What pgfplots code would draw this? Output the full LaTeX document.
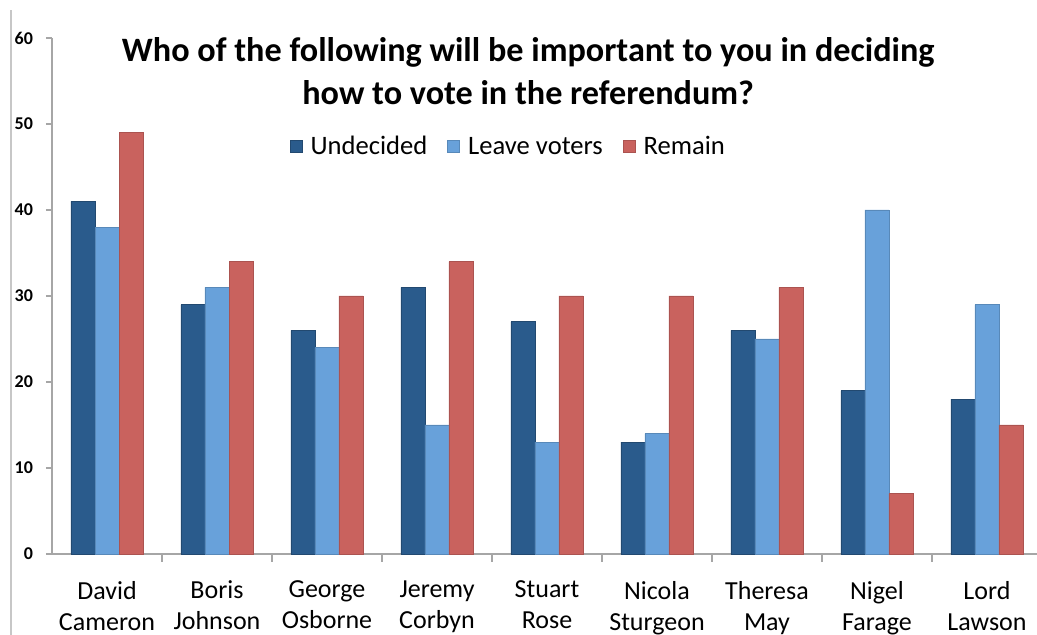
\documentclass[border=0pt]{standalone}
\usepackage{fontspec}
\setmainfont{Carlito}
\usepackage{pgfplots}
\pgfplotsset{compat=1.18}
\definecolor{cUnd}{HTML}{2A5B8C}
\definecolor{cLeave}{HTML}{68A1DA}
\definecolor{cRem}{HTML}{C9625E}
\definecolor{axgray}{HTML}{A6A6A6}
\begin{document}
\begin{tikzpicture}
\begin{axis}[
  name=ax, at={(0,0)}, anchor=south west,
  scale only axis, width=495pt, height=258pt,
  ybar=0pt, bar width=12pt,
  xmin=-0.5, xmax=8.5, ymin=0, ymax=60,
  axis x line*=bottom, axis y line*=left,
  axis line style={axgray, line width=1pt, -},
  ytick={0,10,...,60},
  xtick={0,...,8},
  xticklabels={{David\\Cameron},{Boris\\Johnson},{George\\Osborne},{Jeremy\\Corbyn},{Stuart\\Rose},{Nicola\\Sturgeon},{Theresa\\May},{Nigel\\Farage},{Lord\\Lawson}},
  xticklabel style={align=center, font=\fontsize{13}{15.5}\selectfont, yshift=-7pt},
  yticklabel style={font=\bfseries\fontsize{9}{10}\selectfont, xshift=-3pt},
  /pgf/number format/assume math mode=true,
  tick align=outside,
  major x tick style={draw=none},
  minor xtick={0.5,1.5,...,7.5},
  tick style={axgray, line width=1pt},
  major tick length=3pt, minor tick length=4pt,
  legend style={at={(0.462,0.789)}, anchor=center, draw=none, fill=none,
    font=\fontsize{13.3}{16}\selectfont, legend columns=3,
    nodes={text height=1.75ex, text depth=0.25ex},
    /tikz/every odd column/.append style={column sep=2pt},
    /tikz/every even column/.append style={column sep=8pt}},
  legend image code/.code={\fill[#1] (0pt,-3pt) rectangle (6pt,3pt);},
  clip=false,
]
\addplot[fill=cUnd, draw=cUnd!80!black] coordinates {(0,41) (1,29) (2,26) (3,31) (4,27) (5,13) (6,26) (7,19) (8,18)};
\addplot[fill=cLeave, draw=cLeave!85!black] coordinates {(0,38) (1,31) (2,24) (3,15) (4,13) (5,14) (6,25) (7,40) (8,29)};
\addplot[fill=cRem, draw=cRem!85!black] coordinates {(0,49) (1,34) (2,30) (3,34) (4,30) (5,30) (6,31) (7,7) (8,15)};
\legend{Undecided, Leave voters, Remain}
\node[font=\bfseries\fontsize{17.1}{21.5}\selectfont, align=center] at (axis description cs:0.481,0.935)
  {Who of the following will be important to you in deciding\\how to vote in the referendum?};
\end{axis}
\draw[black!22, line width=1pt] (-20.5pt,-40.5pt) -- (-20.5pt,272pt);
\pgfresetboundingbox
\path (-26pt,-40.5pt) rectangle (492.5pt,277pt);
\end{tikzpicture}
\end{document}
